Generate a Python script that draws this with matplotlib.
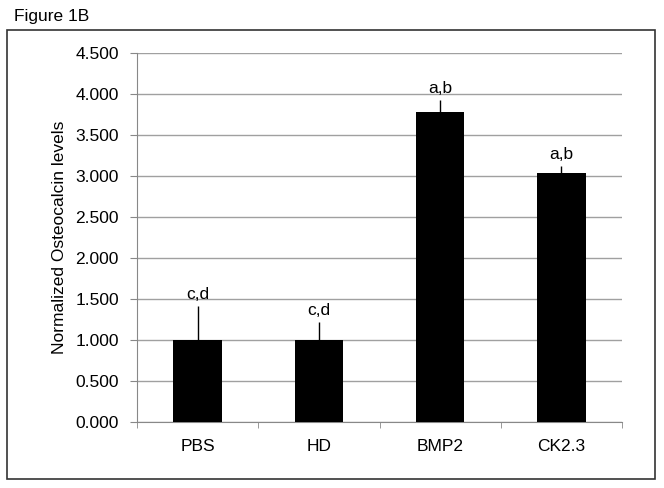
import matplotlib.pyplot as plt
from matplotlib.patches import Rectangle

groups = ['PBS', 'HD', 'BMP2', 'CK2.3']
values = [1.0, 1.0, 3.78, 3.04]
errors = [0.41, 0.22, 0.15, 0.08]
letters = ['c,d', 'c,d', 'a,b', 'a,b']
yticks = [0.0, 0.5, 1.0, 1.5, 2.0, 2.5, 3.0, 3.5, 4.0, 4.5]

plt.rcParams['font.family'] = ['Liberation Sans', 'DejaVu Sans']
fs = 12.5

fig = plt.figure(figsize=(6.64, 4.88), dpi=100, facecolor='w')
# outer frame round the chart
fig.patches.append(Rectangle((7/664, 1 - 479/488), 648/664, 449/488,
                             transform=fig.transFigure, fill=False,
                             ec='#333333', lw=1.2))
fig.text(14/664, 1 - 16/488, 'Figure 1B', fontsize=fs, va='center', ha='left')

ax = fig.add_axes([137/664, 1 - 422/488, 485/664, 369/488])
x = list(range(len(groups)))
ax.bar(x, values, width=0.4, color='black', zorder=3)
ax.errorbar(x, values, yerr=[[0]*len(errors), errors], fmt='none',
            ecolor='black', elinewidth=1, capsize=0, zorder=4)
for xi, v, e, t in zip(x, values, errors, letters):
    ax.text(xi, v + e + 0.05, t, ha='center', va='bottom', fontsize=fs)

ax.set_xlim(-0.5, len(groups) - 0.5)
ax.set_ylim(0, 4.5)
ax.set_yticks(yticks)
ax.set_yticklabels(['%.3f' % v for v in yticks], fontsize=fs)
ax.set_xticks(x)
ax.set_xticklabels(groups, fontsize=fs)
ax.set_xticks([i - 0.5 for i in range(len(groups) + 1)], minor=True)
ax.tick_params(axis='x', which='major', length=0, pad=12)
ax.tick_params(axis='x', which='minor', length=4, color='#888888')
ax.tick_params(axis='y', length=5, color='#888888', pad=8)
ax.set_ylabel('Normalized Osteocalcin levels', fontsize=fs, labelpad=6)
ax.yaxis.grid(True, color='#a0a0a0', lw=1, zorder=0)
ax.set_axisbelow(True)
for s in ('top', 'right'):
    ax.spines[s].set_visible(False)
for s in ('left', 'bottom'):
    ax.spines[s].set_color('#888888')

plt.savefig('out.png', dpi=100)
